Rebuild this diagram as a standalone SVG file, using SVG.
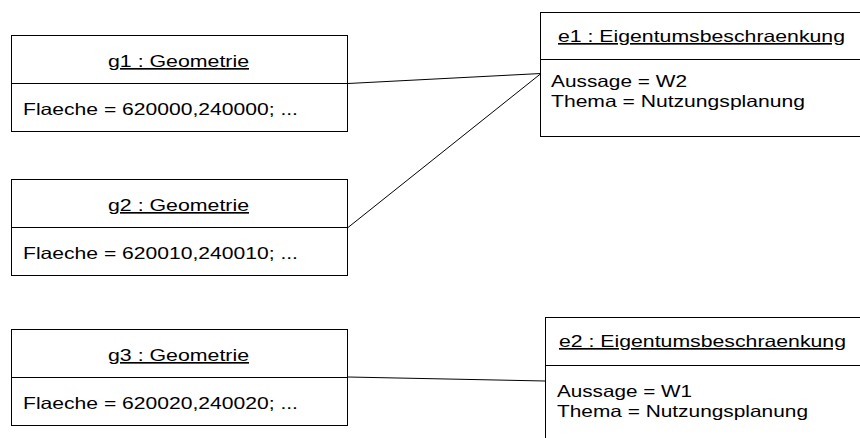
<svg xmlns="http://www.w3.org/2000/svg" width="860" height="438" viewBox="0 0 860 438">
<style>
.box{fill:#fff;stroke:#000;stroke-width:1}
.div{stroke:#000;stroke-width:1}
.t{font-family:"Liberation Sans",Arial,sans-serif;font-size:16.5px;fill:#000}
.u{text-decoration:underline}
.conn{stroke:#000;stroke-width:1;fill:none}
</style>
<rect width="860" height="438" fill="#fff"/>
<g id="connectors">
<line class="conn" x1="348" y1="83.5" x2="541" y2="73.5"/>
<line class="conn" x1="348" y1="227.5" x2="541" y2="73.5"/>
<line class="conn" x1="348" y1="377" x2="545" y2="381"/>
</g>
<g id="g1">
<rect class="box" x="11.5" y="35.5" width="336" height="96"/>
<line class="div" x1="11.5" y1="83.5" x2="347.5" y2="83.5"/>
<text class="t u" x="108" y="67" textLength="141" lengthAdjust="spacingAndGlyphs">g1 : Geometrie</text>
<text class="t" x="23" y="115" textLength="275" lengthAdjust="spacingAndGlyphs">Flaeche = 620000,240000; ...</text>
</g>
<g id="g2">
<rect class="box" x="11.5" y="179.5" width="336" height="96"/>
<line class="div" x1="11.5" y1="227.5" x2="347.5" y2="227.5"/>
<text class="t u" x="108" y="211" textLength="141" lengthAdjust="spacingAndGlyphs">g2 : Geometrie</text>
<text class="t" x="23" y="259" textLength="275" lengthAdjust="spacingAndGlyphs">Flaeche = 620010,240010; ...</text>
</g>
<g id="g3">
<rect class="box" x="11.5" y="329.5" width="336" height="96"/>
<line class="div" x1="11.5" y1="377.5" x2="347.5" y2="377.5"/>
<text class="t u" x="108" y="361" textLength="141" lengthAdjust="spacingAndGlyphs">g3 : Geometrie</text>
<text class="t" x="23" y="409" textLength="275" lengthAdjust="spacingAndGlyphs">Flaeche = 620020,240020; ...</text>
</g>
<g id="e1">
<rect class="box" x="540.5" y="12.5" width="340" height="124"/>
<line class="div" x1="540.5" y1="59.5" x2="880" y2="59.5"/>
<text class="t u" x="558" y="42" textLength="287" lengthAdjust="spacingAndGlyphs">e1 : Eigentumsbeschraenkung</text>
<text class="t" x="551" y="87" textLength="136" lengthAdjust="spacingAndGlyphs">Aussage = W2</text>
<text class="t" x="551" y="107" textLength="254" lengthAdjust="spacingAndGlyphs">Thema = Nutzungsplanung</text>
</g>
<g id="e2">
<rect class="box" x="545.5" y="317.5" width="340" height="140"/>
<line class="div" x1="545.5" y1="365.5" x2="885" y2="365.5"/>
<text class="t u" x="559" y="347" textLength="287" lengthAdjust="spacingAndGlyphs">e2 : Eigentumsbeschraenkung</text>
<text class="t" x="557" y="397" textLength="135" lengthAdjust="spacingAndGlyphs">Aussage = W1</text>
<text class="t" x="557" y="417" textLength="251" lengthAdjust="spacingAndGlyphs">Thema = Nutzungsplanung</text>
</g>
</svg>
